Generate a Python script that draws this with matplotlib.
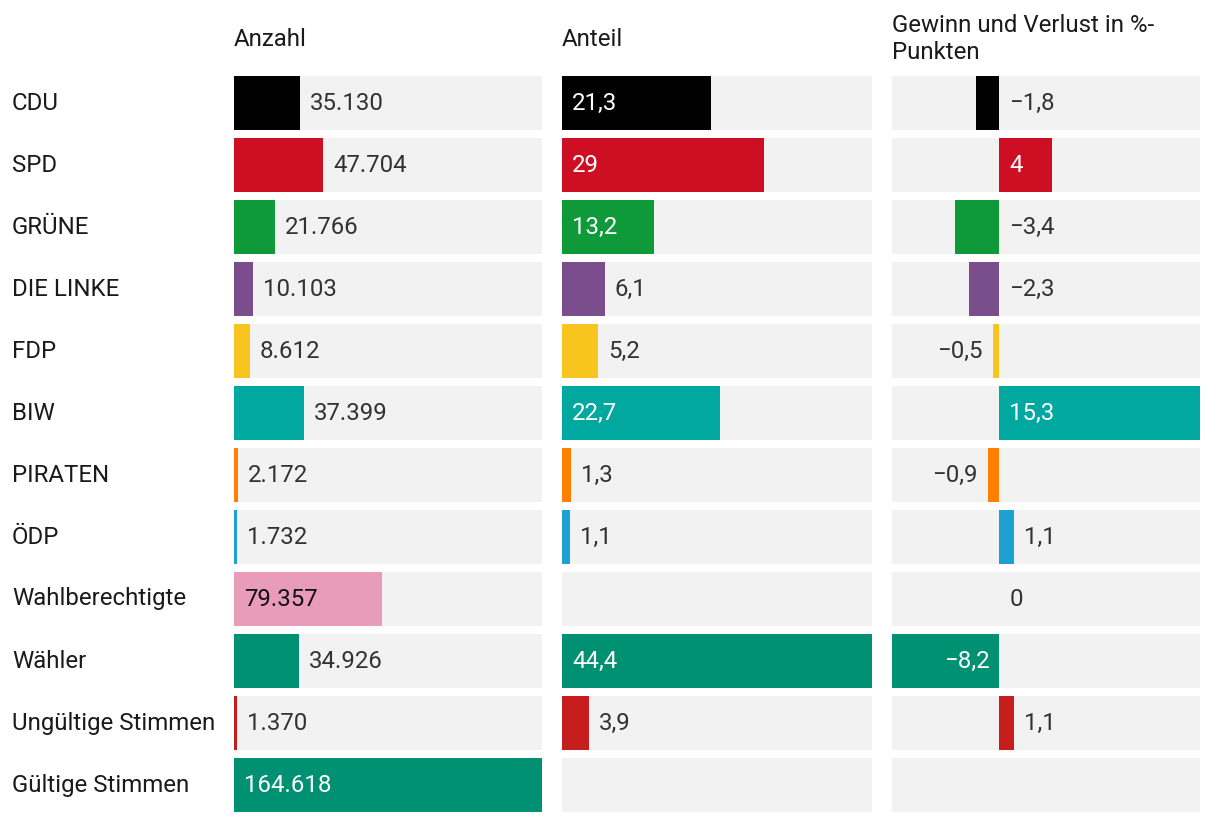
import matplotlib
matplotlib.use('Agg')
import matplotlib.pyplot as plt
import matplotlib.transforms as mtransforms
import numpy as np

plt.rcParams.update({
    'font.family': ['Roboto', 'DejaVu Sans'],
    'font.size': 17.3,
})

# ── data ──────────────────────────────────────
categories = ['CDU', 'SPD', 'GRÜNE', 'DIE LINKE', 'FDP', 'BIW', 'PIRATEN', 'ÖDP',
              'Wahlberechtigte', 'Wähler', 'Ungültige Stimmen', 'Gültige Stimmen']
anzahl = [35130, 47704, 21766, 10103, 8612, 37399, 2172, 1732, 79357, 34926, 1370, 164618]
anteil = [21.3, 29, 13.2, 6.1, 5.2, 22.7, 1.3, 1.1, np.nan, 44.4, 3.9, np.nan]
gewinn = [-1.8, 4, -3.4, -2.3, -0.5, 15.3, -0.9, 1.1, 0, -8.2, 1.1, np.nan]
colors = ['#000000', '#cd0e23', '#0f9a3a', '#7a4e8d', '#f8c51e', '#00a8a0',
          '#ff7f00', '#1da1d2', '#e89cb9', '#009173', '#c81d1d', '#009173']
headers = ['Anzahl', 'Anteil', 'Gewinn und Verlust in %-\nPunkten']

TRACK = '#f2f2f2'
TXT = '#333333'
W, H = 1220, 822
fig = plt.figure(figsize=(W / 100, H / 100), dpi=100)

# column extents in pixels
cols = [(234, 542), (562, 872), (892, 1200)]
top_px, bot_px = 76, 812
n = len(categories)
bh = 54 / 62
pad = bh / 2

axes = []
for (x0, x1) in cols:
    ax = fig.add_axes([x0 / W, 1 - bot_px / H, (x1 - x0) / W, (bot_px - top_px) / H])
    ax.set_ylim(n - 1 + pad, -pad)
    ax.axis('off')
    axes.append(ax)

y = np.arange(n)
fmt_int = lambda v: f'{int(v):,}'.replace(',', '.')
fmt_dec = lambda v: (f'{v:g}'.replace('.', ',').replace('-', '\u2212'))


def text_w(s, ax):
    r = fig.canvas.get_renderer()
    t = ax.text(0, 0, s)
    w = t.get_window_extent(renderer=r).width
    t.remove()
    return w


def px_per_unit(ax):
    x0, x1 = ax.get_xlim()
    return ax.bbox.width / (x1 - x0)


def draw_col(ax, vals, lo, hi, fmt):
    ax.set_xlim(lo, hi)
    ax.barh(y, [hi - lo] * n, left=lo, height=bh, color=TRACK, linewidth=0)
    ppu = px_per_unit(ax)
    for i, v in enumerate(vals):
        if np.isnan(v):
            continue
        ax.barh(i, v, height=bh, color=colors[i], linewidth=0)
        lab = fmt(v)
        tw = text_w(lab, ax)
        bar_px = abs(v) * ppu
        inside = bar_px >= tw + 20
        tc = '#111111' if colors[i] == '#e89cb9' else 'white'
        off = 7.2  # 10 px
        if v >= 0:
            if inside:
                ax.annotate(lab, (0, i), xytext=(off, 0), textcoords='offset points',
                            ha='left', va='center', color=tc)
            else:
                ax.annotate(lab, (v, i), xytext=(off, 0), textcoords='offset points',
                            ha='left', va='center', color=TXT)
        else:
            if inside:
                ax.annotate(lab, (0, i), xytext=(-off, 0), textcoords='offset points',
                            ha='right', va='center', color=tc)
            elif abs(v) < 1:
                ax.annotate(lab, (v, i), xytext=(-off, 0), textcoords='offset points',
                            ha='right', va='center', color=TXT)
            else:
                ax.annotate(lab, (0, i), xytext=(off, 0), textcoords='offset points',
                            ha='left', va='center', color=TXT)


draw_col(axes[0], anzahl, 0, max(anzahl), fmt_int)
draw_col(axes[1], anteil, 0, np.nanmax(anteil), fmt_dec)
draw_col(axes[2], gewinn, np.nanmin(gewinn), np.nanmax(gewinn), fmt_dec)

# row labels
tr = mtransforms.blended_transform_factory(fig.transFigure, axes[0].transData)
for i, c in enumerate(categories):
    axes[0].text(12 / W, i, c, transform=tr, ha='left', va='center', color='#1a1a1a')

# column headers
for (x0, _), h in zip(cols, headers):
    fig.text(x0 / W, 1 - 39 / H, h, ha='left', va='center', color='#1a1a1a',
             linespacing=1.25)

fig.savefig('out.png', dpi=100, facecolor='white')
